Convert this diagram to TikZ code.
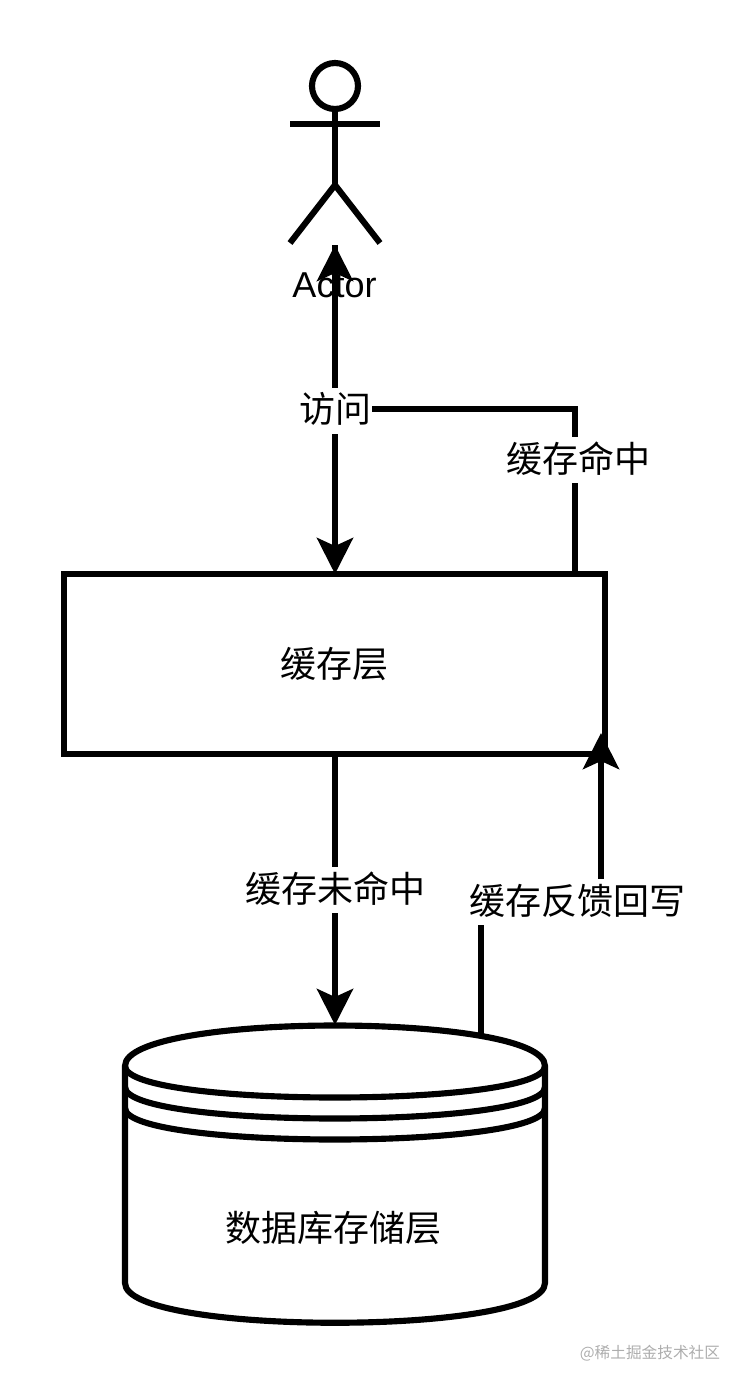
\documentclass[tikz,border=0pt]{standalone}
\usepackage{fontspec}
\setmainfont{Noto Sans CJK SC}
\newfontfamily\latinfont{Liberation Sans}
\usetikzlibrary{arrows.meta,calc}
\tikzset{
  ln/.style={line width=4.6pt,black},
  tipped/.style={ln,-{Stealth[length=27pt,width=27pt,inset=6pt]}},
  lbl/.style={font=\fontsize{27}{32}\selectfont,fill=white,inner xsep=1pt,inner ysep=1.75pt,text height=24.75pt,text depth=6.25pt},
  plain/.style={font=\fontsize{27}{32}\selectfont,inner sep=0pt}
}
\begin{document}
\begin{tikzpicture}[x=0.75pt,y=-0.75pt]
\useasboundingbox (0,0) rectangle (744,1386);
% actor
\node[circle,draw,line width=4.6pt,minimum size=34.5pt,inner sep=0pt] (head) at (335,86) {};
\coordinate (neck) at (335,185);
\coordinate (armL) at (290,124);
\coordinate (armR) at (380,124);
\coordinate (footL) at (290,243);
\coordinate (footR) at (380,243);
\coordinate (actor) at (335,245);
\draw[ln] (head.south) -- (neck);
\draw[ln] (armL) -- (armR);
\draw[ln] (footL) -- (neck) -- (footR);
% cache layer
\node[draw,line width=4.6pt,minimum width=405.75pt,minimum height=135pt,inner sep=0pt,plain,draw] (cache) at (334.5,664) {缓存层};
\coordinate (cacheTop) at (335,574);
\coordinate (cacheHit) at (575,574);
\coordinate (cacheBottom) at (335,754);
\coordinate (cacheIn) at (601,733);
% datastore
\coordinate (dbTop) at (335,1025);
\coordinate (dbOut) at (481,1034);
\draw[ln,line join=round] (125,1066) .. controls (125,1012) and (545,1012) .. (545,1066)
  -- (545,1283) .. controls (545,1336) and (125,1336) .. (125,1283) -- cycle;
\draw[ln] (125,1066) .. controls (125,1108) and (545,1108) .. (545,1066);
\draw[ln] (125,1087) .. controls (125,1129) and (545,1129) .. (545,1087);
\draw[ln] (125,1108) .. controls (125,1150) and (545,1150) .. (545,1108);
\node[plain] (db) at (333,1228) {数据库存储层};
% connectors
\draw[tipped] (cacheHit) -- ++(0,-165) -| (actor);
\draw[tipped] (actor) -- (cacheTop);
\draw[tipped] (cacheBottom) -- (dbTop);
\draw[tipped] (dbOut) -- ++(0,-133) -| (cacheIn);
% labels
\node[font=\latinfont\fontsize{27}{32}\selectfont,inner sep=0pt] (actorlabel) at (334.5,285) {Actor};
\node[lbl] (visit) at (335,410.5) {访问};
\node[lbl] (hit) at (578,460) {缓存命中};
\node[lbl] (miss) at (335,890) {缓存未命中};
\node[lbl] (back) at (577,902) {缓存反馈回写};
\node[font=\fontsize{11.75}{14}\selectfont,text=black!32,inner sep=0pt] (wm) at (650,1353) {@稀土掘金技术社区};
\end{tikzpicture}
\end{document}
